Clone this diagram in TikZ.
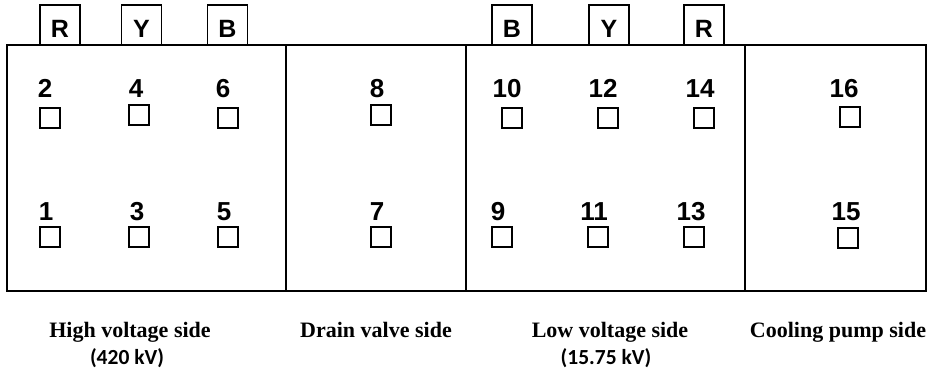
\documentclass[tikz,border=0pt]{standalone}
\usepackage{fontspec}
\setmainfont{Liberation Serif}
\newfontfamily\arialf{Liberation Sans}
\newfontfamily\calf{Carlito}
\begin{document}
\begin{tikzpicture}[x=1pt,y=-1pt,
  frame/.style={draw=black,line width=1.5pt},
  phasebox/.style={draw=black,line width=1.3pt,fill=white,minimum width=40pt,minimum height=40pt,inner sep=0pt,text height=26pt,text depth=0pt,font=\arialf\bfseries\fontsize{25}{25}\selectfont},
  term/.style={draw=black,line width=1.1pt,minimum width=20pt,minimum height=20pt,inner sep=0pt},
  num/.style={anchor=base,inner sep=0pt,font=\arialf\bfseries\fontsize{26}{26}\selectfont},
  side/.style={anchor=base,inner sep=0pt,font=\bfseries\fontsize{22}{22}\selectfont},
  volt/.style={anchor=base,inner sep=0pt,font=\calf\bfseries\fontsize{21.5}{21.5}\selectfont}]
\useasboundingbox (0,0) rectangle (934,374);
% phase boxes
\node[phasebox] (pR1) at (60,25) {R};
\node[phasebox] (pY1) at (141.5,25) {Y};
\node[phasebox] (pB1) at (227.5,25) {B};
\node[phasebox] (pB2) at (512,25) {B};
\node[phasebox] (pY2) at (609,25) {Y};
\node[phasebox] (pR2) at (704,25) {R};
% main frame
\draw[frame] (7,45) rectangle (926,291);
\draw[frame] (286,45) -- (286,291);
\draw[frame] (466,45) -- (466,291);
\draw[frame] (745,45) -- (745,291);
% top row
\node[num] (n2) at (45,98) {2};
\node[num] (n4) at (136,98) {4};
\node[num] (n6) at (223,98) {6};
\node[num] (n8) at (377,98) {8};
\node[num] (n10) at (507,98) {10};
\node[num] (n12) at (603,98) {12};
\node[num] (n14) at (700,98) {14};
\node[num] (n16) at (844,98) {16};
\node[term] (t2) at (50,118) {};
\node[term] (t4) at (139,115) {};
\node[term] (t6) at (228,118) {};
\node[term] (t8) at (381,115) {};
\node[term] (t10) at (512,118) {};
\node[term] (t12) at (608,118) {};
\node[term] (t14) at (704,118) {};
\node[term] (t16) at (850,117) {};
% bottom row
\node[num] (n1) at (46,220) {1};
\node[num] (n3) at (137,220) {3};
\node[num] (n5) at (224,220) {5};
\node[num] (n7) at (377,220) {7};
\node[num] (n9) at (498,220) {9};
\node[num] (n11) at (594,220) {11};
\node[num] (n13) at (691,220) {13};
\node[num] (n15) at (846,220) {15};
\node[term] (t1) at (50,237) {};
\node[term] (t3) at (139,237) {};
\node[term] (t5) at (228,237) {};
\node[term] (t7) at (381,237) {};
\node[term] (t9) at (502,237) {};
\node[term] (t11) at (598,237) {};
\node[term] (t13) at (694,237) {};
\node[term] (t15) at (848,238) {};
% side labels
\node[side] (hv) at (130,337) {High voltage side};
\node[volt] (hvk) at (127,364) {(420 kV)};
\node[side] (dv) at (376,337) {Drain valve side};
\node[side] (lv) at (610,337) {Low voltage side};
\node[volt] (lvk) at (606,364) {(15.75 kV)};
\node[side] (cp) at (838,337) {Cooling pump side};
\end{tikzpicture}
\end{document}
